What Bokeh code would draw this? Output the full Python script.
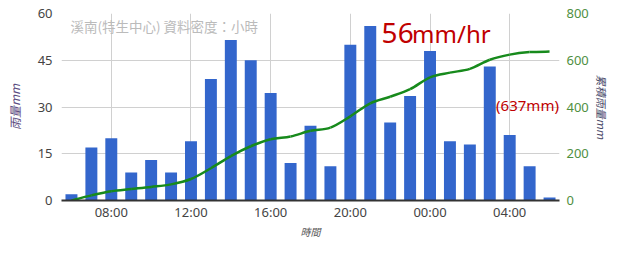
from bokeh.plotting import figure
from bokeh.models import Range1d, LinearAxis, FixedTicker, Label
from bokeh.embed import file_html
from bokeh.resources import INLINE

# ---- data ----
hours = list(range(6, 31))  # 06:00 .. 06:00 next day
rain = [2, 17, 20, 9, 13, 9, 19, 39, 51.5, 45, 34.5, 12, 24, 11,
        50, 56, 25, 33.5, 48, 19, 18, 43, 21, 11, 1]
cum = [0, 22, 40, 49, 58, 69, 92, 138, 190, 232, 262, 274, 298, 312,
       360, 416, 444, 476, 527, 547, 563, 602, 624, 635, 637]
x_ticks = [8, 12, 16, 20, 24, 28]
x_tick_labels = ["08:00", "12:00", "16:00", "20:00", "00:00", "04:00"]
left_ticks = [0, 15, 30, 45, 60]
right_ticks = [0, 200, 400, 600, 800]
subtitle = "溪南(特生中心) 資料密度：小時"
peak_text = ("56", "mm/hr")
total_text = "(637mm)"

FONT = "Noto Sans"
CJK = "Noto Sans CJK TC"

p = figure(width=612, height=241, output_backend="svg", toolbar_location=None,
           x_range=Range1d(5.5, 30.5), y_range=Range1d(0, 60),
           min_border_left=61, min_border_right=46, min_border_top=13,
           min_border_bottom=30)
p.outline_line_color = None
p.background_fill_color = "white"
p.border_fill_color = "white"

p.extra_y_ranges = {"cum": Range1d(0, 800)}

# bars
p.vbar(x=hours, top=rain, width=0.6, fill_color="#3366cc", line_color=None)

# smoothed cumulative line (Catmull-Rom -> cubic Bezier)
n = len(hours)
x0, y0, x1, y1, cx0, cy0, cx1, cy1 = [], [], [], [], [], [], [], []
for i in range(n - 1):
    xa, ya = hours[i], cum[i]
    xb, yb = hours[i + 1], cum[i + 1]
    xp, yp = (hours[i - 1], cum[i - 1]) if i > 0 else (xa, ya)
    xn, yn = (hours[i + 2], cum[i + 2]) if i + 2 < n else (xb, yb)
    x0.append(xa); y0.append(ya); x1.append(xb); y1.append(yb)
    cx0.append(xa + (xb - xp) / 6); cy0.append(ya + (yb - yp) / 6)
    cx1.append(xb - (xn - xa) / 6); cy1.append(yb - (yn - ya) / 6)
p.bezier(x0=x0, y0=y0, x1=x1, y1=y1, cx0=cx0, cy0=cy0, cx1=cx1, cy1=cy1,
         y_range_name="cum", line_color="#178a1c", line_width=2.5)

# grid
p.xgrid.ticker = FixedTicker(ticks=x_ticks)
p.ygrid.ticker = FixedTicker(ticks=left_ticks)
p.xgrid.grid_line_color = "#d0d0d0"
p.ygrid.grid_line_color = "#d0d0d0"

# x axis
xa_ = p.xaxis[0]
xa_.ticker = FixedTicker(ticks=x_ticks)
xa_.major_label_overrides = {t: l for t, l in zip(x_ticks, x_tick_labels)}
xa_.axis_line_color = "#333333"
xa_.axis_line_width = 2
xa_.major_tick_line_color = None
xa_.minor_tick_line_color = None
xa_.major_tick_out = 0
xa_.minor_tick_out = 0
xa_.major_label_standoff = 2
xa_.major_label_text_font = FONT
xa_.major_label_text_font_size = "13px"
xa_.major_label_text_color = "#444444"
xa_.axis_label = "時間"
xa_.axis_label_text_font = CJK
xa_.axis_label_text_font_style = "italic"
xa_.axis_label_text_font_size = "10px"
xa_.axis_label_text_color = "#555555"
xa_.axis_label_standoff = 0

# left axis
ya_ = p.yaxis[0]
ya_.ticker = FixedTicker(ticks=left_ticks)
ya_.axis_line_color = None
ya_.major_tick_line_color = None
ya_.minor_tick_line_color = None
ya_.major_tick_out = 0
ya_.minor_tick_out = 0
ya_.major_label_standoff = 9
ya_.major_label_text_font = FONT
ya_.major_label_text_font_size = "13px"
ya_.major_label_text_color = "#444444"
ya_.axis_label = "雨量mm"
ya_.axis_label_text_font = CJK
ya_.axis_label_text_font_style = "italic"
ya_.axis_label_text_font_size = "12px"
ya_.axis_label_text_color = "#5a4a80"
ya_.axis_label_standoff = 12

# right axis
ra = LinearAxis(y_range_name="cum", ticker=FixedTicker(ticks=right_ticks))
ra.axis_line_color = None
ra.major_tick_line_color = None
ra.minor_tick_line_color = None
ra.major_tick_out = 0
ra.minor_tick_out = 0
ra.major_label_standoff = 7
ra.major_label_text_font = FONT
ra.major_label_text_font_size = "13px"
ra.major_label_text_color = "#4f8f3f"
ra.axis_label = "累積雨量mm"
ra.axis_label_text_font = CJK
ra.axis_label_text_font_style = "italic"
ra.axis_label_text_font_size = "11px"
ra.axis_label_text_color = "#4a4a6a"
ra.axis_label_standoff = 2
p.add_layout(ra, "right")

# in-chart subtitle
p.add_layout(Label(x=5.95, y=56, text=subtitle, text_font=CJK,
                   text_font_size="13.5px", text_color="#bbbbbb",
                   text_baseline="middle", text_align="left"))

# red annotations
p.add_layout(Label(x=21.57, y=53.6, text=peak_text[0], text_font=FONT,
                   text_font_size="28px", text_color="#c00000",
                   text_baseline="alphabetic", text_align="left"))
p.add_layout(Label(x=23.1, y=53.6, text=peak_text[1], text_font=FONT,
                   text_font_size="24px", text_color="#c00000",
                   text_baseline="alphabetic", text_align="left"))
p.add_layout(Label(x=30.47, y=30.5, text=total_text, text_font=FONT,
                   text_font_size="15px", text_color="#c00000",
                   text_baseline="alphabetic", text_align="right"))

open("out.html", "w").write(file_html(p, INLINE))
